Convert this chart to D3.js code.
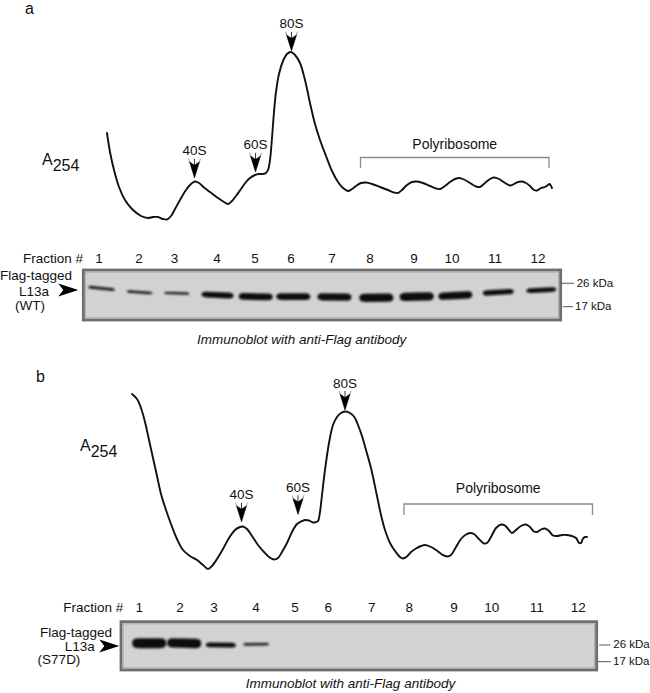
<!DOCTYPE html>
<html><head><meta charset="utf-8">
<script src="https://cdn.jsdelivr.net/npm/d3@7"></script>
<style>body{margin:0;background:#fff}svg{display:block}text{font-family:"Liberation Sans",Arial,Helvetica,sans-serif;fill:#111}</style>
</head><body><svg id="c" width="650" height="693"></svg>
<script>
// ---------------- DATA ----------------
const fractions = [1,2,3,4,5,6,7,8,9,10,11,12];
const peakNames = ["40S","60S","80S"];
const polysomeName = "Polyribosome";
const markerKda = [26, 17];
const markerLabels = ["26 kDa", "17 kDa"];
const blotLabelsA = ["Flag-tagged", "L13a", "(WT)"];
const blotLabelsB = ["Flag-tagged", "L13a", "(S77D)"];
const captionText = "Immunoblot with anti-Flag antibody";
const yAxisName = "A";
const yAxisSub = "254";

// Panel a: sucrose-gradient profile (depth, A254 arbitrary units)
const depthA = [0,0.6,1.4,2.4,3.6,5.0,6.8,8.2,9.2,10.2,11.2,12.0,12.8,13.6,14.6,15.8,16.8,17.6,18.4,19.4,20.6,22.2,23.4,24.2,25.0,25.8,26.8,27.8,28.6,29.6,30.4,31.2,31.8,32.2,32.6,33.0,33.4,33.8,34.4,35.2,36.0,36.8,37.6,38.6,39.6,40.6,41.6,42.6,43.8,45.0,46.2,47.2,48.2,49.0,49.8,50.8,51.8,53.0,54.6,56.2,57.4,58.2,59.0,60.0,61.0,62.0,63.2,64.6,65.8,66.6,67.6,68.6,69.6,70.4,71.4,72.6,73.8,74.6,75.6,76.6,77.4,78.4,79.6,80.6,81.4,82.2,83.0,83.8,84.6,85.4,86.0,86.8,87.6,88.2,88.5,88.8,89.0];
const absA = [0.92,0.73,0.55,0.38,0.25,0.16,0.09,0.07,0.08,0.08,0.06,0.055,0.09,0.16,0.25,0.35,0.41,0.435,0.42,0.375,0.33,0.27,0.23,0.21,0.24,0.29,0.36,0.43,0.47,0.50,0.51,0.51,0.52,0.55,0.65,0.87,1.13,1.33,1.51,1.64,1.71,1.73,1.70,1.62,1.45,1.22,1.01,0.85,0.69,0.54,0.43,0.37,0.34,0.36,0.39,0.42,0.425,0.41,0.38,0.35,0.325,0.32,0.35,0.40,0.43,0.435,0.42,0.39,0.365,0.36,0.39,0.43,0.46,0.47,0.455,0.42,0.385,0.38,0.42,0.46,0.475,0.46,0.42,0.395,0.41,0.43,0.435,0.42,0.39,0.35,0.345,0.37,0.38,0.40,0.41,0.39,0.37];
const peakDepthA = [17.5, 29.7, 36.9];
const polysomeRangeA = [50.7, 88.4];
const bandSignalA = [2.4, 2.0, 1.7, 5.0, 6.0, 6.0, 6.5, 7.5, 7.5, 6.5, 4.5, 4.0];
const bandKdaA = [23.7, 22.1, 21.7, 21.0, 20.4, 20.4, 20.3, 20.0, 20.4, 20.8, 22.1, 23.0];

// Panel b
const depthB = [0,1.0,1.8,2.6,3.4,4.2,5.0,5.8,6.8,7.8,9.0,10.2,11.6,13.0,14.2,15.2,16.0,17.0,18.2,19.4,20.6,21.6,22.2,23.0,24.0,25.2,26.4,27.4,28.4,29.2,30.0,31.0,32.0,33.0,33.8,34.6,35.4,36.2,36.8,37.2,37.6,38.0,38.6,39.4,40.2,41.0,41.8,42.6,43.4,44.4,45.2,46.0,46.8,47.8,49.0,49.8,50.6,51.6,52.6,53.6,54.2,55.0,55.8,56.8,57.8,58.6,59.6,60.8,62.0,63.0,63.8,64.8,65.8,66.8,67.6,68.4,69.4,70.4,71.0,71.8,72.8,73.8,74.6,75.4,76.0,76.8,77.8,78.8,79.6,80.4,81.0,81.8,82.6,83.4,84.2,85.0,86.0,87.0,88.0,88.8,89.4,89.8,90.2,90.6,91.0];
const absB = [1.81,1.76,1.67,1.53,1.35,1.17,0.99,0.81,0.65,0.51,0.36,0.25,0.19,0.15,0.10,0.06,0.09,0.16,0.26,0.37,0.45,0.48,0.485,0.46,0.39,0.30,0.23,0.18,0.155,0.17,0.23,0.32,0.43,0.51,0.535,0.55,0.545,0.525,0.53,0.54,0.63,0.80,1.05,1.32,1.50,1.58,1.62,1.635,1.625,1.585,1.50,1.39,1.25,1.07,0.79,0.60,0.45,0.32,0.24,0.18,0.165,0.185,0.23,0.265,0.29,0.30,0.285,0.25,0.205,0.185,0.20,0.28,0.36,0.405,0.42,0.41,0.36,0.315,0.32,0.38,0.47,0.505,0.495,0.45,0.42,0.45,0.49,0.505,0.48,0.435,0.43,0.455,0.465,0.44,0.395,0.39,0.40,0.40,0.39,0.37,0.32,0.32,0.365,0.38,0.38];
const peakDepthB = [21.9, 33.2, 42.6];
const polysomeRangeB = [54.4, 92.1];
const bandSignalB = [9.0, 8.5, 4.0, 2.0, 0, 0, 0, 0, 0, 0, 0, 0];
const bandKdaB = [27.2, 27.2, 26.0, 26.5, null, null, null, null, null, null, null, null];

// ---------------- LAYOUT ----------------
const panels = [
  { tag:"a", tagPos:[25,14], depth:depthA, abs:absA,
    x:d3.scaleLinear().domain([0,89]).range([107,552]),
    y:d3.scaleLinear().domain([0,1.75]).range([225,50]),
    peakDepth:peakDepthA, peakGap:[4,3,1.5], polysome:polysomeRangeA, bracketY:157.5, bracketH:10.5, polyTextY:149,
    aPos:[42,165],
    blot:{ box:[83.3,270,560.7,320], fracY:262.7, fracRight:83,
      labelX:d3.scaleLinear().domain(fractions).range([99,139,174.5,217,255,291,332,370,414,452,495,538]),
      laneX:d3.scaleLinear().domain(fractions).range([101.5,139.7,176.7,217.5,255.8,293.3,334.5,376.3,416.7,455.3,498.3,541.3]),
      kda:d3.scaleLog().domain(markerKda).range([283.3,306.7]),
      signal:bandSignalA, bandKda:bandKdaA,
      tickX:[[561.7,574],[563,573]], textX:[576.7,575],
      arrow:[58.3,290], lines:blotLabelsA, lineX:[36,34,30], lineY:[280,295.5,309.5],
      caption:[301.7,344]}},
  { tag:"b", tagPos:[36,382], depth:depthB, abs:absB,
    x:d3.scaleLinear().domain([0,91]).range([132,587]),
    y:d3.scaleLinear().domain([0,2]).range([575,375]),
    peakDepth:peakDepthB, peakGap:[5,9,1.5], polysome:polysomeRangeB, bracketY:504, bracketH:11, polyTextY:493,
    aPos:[80,451],
    blot:{ box:[121,621.7,596.7,670], fracY:611.7, fracRight:123.3,
      labelX:d3.scaleLinear().domain(fractions).range([139.3,180,214,256,295,328.3,371.7,409.3,454,491.7,536.7,578.3]),
      laneX:d3.scaleLinear().domain(fractions).range([149.2,184.2,220.8,256.2,300,333,377,414,459,497,542,583]),
      kda:d3.scaleLog().domain(markerKda).range([645,661.7]),
      signal:bandSignalB, bandKda:bandKdaB,
      tickX:[[599.3,610.7],[598,611]], textX:[613.3,613],
      arrow:[99.3,646], lines:blotLabelsB, lineX:[76,79.7,59], lineY:[637,650.5,664],
      caption:[350.5,688]}}
];

const svg = d3.select("#c");
const defs = svg.append("defs");
defs.append("filter").attr("id","blur").attr("x","-20%").attr("y","-100%").attr("width","140%").attr("height","300%")
  .append("feGaussianBlur").attr("stdDeviation",0.8);

function valueAt(depth, abs, d){
  const i = d3.bisectLeft(depth, d);
  if (i <= 0) return abs[0];
  if (i >= depth.length) return abs[abs.length-1];
  const t = (d - depth[i-1])/(depth[i]-depth[i-1]);
  return abs[i-1] + t*(abs[i]-abs[i-1]);
}

panels.forEach(p => {
  const g = svg.append("g");
  g.append("text").attr("x",p.tagPos[0]).attr("y",p.tagPos[1]).attr("font-size",16).text(p.tag);
  const at = g.append("text").attr("x",p.aPos[0]).attr("y",p.aPos[1]).attr("font-size",16);
  at.append("tspan").text(yAxisName);
  at.append("tspan").attr("dy",6).text(yAxisSub);

  const pts = p.depth.map((d,i)=>[d,p.abs[i]]);
  const line = d3.line().x(d=>p.x(d[0])).y(d=>p.y(d[1])).curve(d3.curveCatmullRom.alpha(0.5));
  g.append("path").attr("d",line(pts)).attr("fill","none").attr("stroke","#111")
    .attr("stroke-width",1.9).attr("stroke-linejoin","round").attr("stroke-linecap","round");

  p.peakDepth.forEach((d,i)=>{
    const px = p.x(d);
    const tip = p.y(valueAt(p.depth,p.abs,d)) - p.peakGap[i];
    const ag = g.append("g").attr("transform",`translate(${px},${tip})`);
    ag.append("line").attr("x1",0).attr("x2",0).attr("y1",-19).attr("y2",-12).attr("stroke","#222").attr("stroke-width",0.9);
    ag.append("path").attr("d","M0,0 L-5,-16 L0,-12.5 L5,-16 Z").attr("fill","#000").attr("stroke","#000").attr("stroke-width",0.6).attr("stroke-linejoin","round");
    ag.append("path").attr("d","M-5,-16 L-5.8,-19 M5,-16 L5.8,-19").attr("stroke","#555").attr("stroke-width",0.6);
    g.append("text").attr("x",px).attr("y",tip-22.5).attr("text-anchor","middle").attr("font-size",13.5).text(peakNames[i]);
  });

  const bx0 = p.x(p.polysome[0]), bx1 = p.x(p.polysome[1]);
  g.append("path").attr("d",`M${bx0},${p.bracketY+p.bracketH} V${p.bracketY} H${bx1} V${p.bracketY+p.bracketH}`)
    .attr("fill","none").attr("stroke","#8a8a8a").attr("stroke-width",1.3);
  g.append("text").attr("x",(bx0+bx1)/2).attr("y",p.polyTextY).attr("text-anchor","middle").attr("font-size",14).text(polysomeName);

  const b = p.blot;
  g.append("text").attr("x",b.fracRight).attr("y",b.fracY).attr("text-anchor","end").attr("font-size",13.5).text("Fraction #");
  g.selectAll(null).data(fractions).join("text")
    .attr("x",f=>b.labelX(f)).attr("y",b.fracY).attr("text-anchor","middle").attr("font-size",13.5).text(f=>f);

  const [x0,y0,x1,y1] = b.box;
  g.append("rect").attr("x",x0).attr("y",y0).attr("width",x1-x0).attr("height",y1-y0)
    .attr("fill","#d2d2d2").attr("stroke","#6e6e6e").attr("stroke-width",2.8);
  g.append("rect").attr("x",x0+2.2).attr("y",y0+2.2).attr("width",x1-x0-4.4).attr("height",y1-y0-4.4)
    .attr("fill","none").attr("stroke","#a8a8a8").attr("stroke-width",0.8);

  const bandData = fractions.map((f,i)=>({f, s:b.signal[i], k:b.bandKda[i]})).filter(d=>d.s>0 && d.k!=null);
  const yOf = d => b.kda(d.k);
  const bg = g.append("g").attr("filter","url(#blur)");
  bandData.forEach((d,i)=>{
    const cx = b.laneX(d.f), cy = yOf(d);
    const prev = bandData[i-1], next = bandData[i+1];
    let slope = 0;
    if (prev && next) slope = (yOf(next)-yOf(prev))/(b.laneX(next.f)-b.laneX(prev.f));
    else if (next) slope = (yOf(next)-cy)/(b.laneX(next.f)-cx);
    else if (prev) slope = (cy-yOf(prev))/(cx-b.laneX(prev.f));
    const w = Math.min(34, 22 + 2*d.s);
    const hw = w/2, ht = d.s/2 + 0.4;
    const taper = Math.min(hw*0.35, 7);
    const path = `M${-hw},0 C${-hw},${-ht*0.9} ${-hw+taper*0.6},${-ht} ${-hw+taper},${-ht} L${hw-taper},${-ht} C${hw-taper*0.6},${-ht} ${hw},${-ht*0.9} ${hw},0 C${hw},${ht*0.9} ${hw-taper*0.6},${ht} ${hw-taper},${ht} L${-hw+taper},${ht} C${-hw+taper*0.6},${ht} ${-hw},${ht*0.9} ${-hw},0 Z`;
    const ang = Math.atan(slope)*180/Math.PI;
    bg.append("path").attr("d",path).attr("transform",`translate(${cx},${cy}) rotate(${ang})`)
      .attr("fill", d.s < 3 ? "#222" : "#0c0c0c");
  });

  markerKda.forEach((k,i)=>{
    const yy = b.kda(k);
    g.append("line").attr("x1",b.tickX[i][0]).attr("x2",b.tickX[i][1]).attr("y1",yy).attr("y2",yy)
      .attr("stroke","#555").attr("stroke-width",1);
    g.append("text").attr("x",b.textX[i]).attr("y",yy+3.4).attr("font-size",11.5).text(markerLabels[i]);
  });

  b.lines.forEach((t,i)=>{
    g.append("text").attr("x",b.lineX[i]).attr("y",b.lineY[i]).attr("text-anchor","middle").attr("font-size",13.5).text(t);
  });
  g.append("path").attr("transform",`translate(${b.arrow[0]},${b.arrow[1]})`)
    .attr("d","M20,0 L0,-6.5 L5,0 L0,6.5 Z").attr("fill","#000");

  g.append("text").attr("x",b.caption[0]).attr("y",b.caption[1]).attr("text-anchor","middle")
    .attr("font-size",13.5).attr("font-style","italic").text(captionText);
});
</script></body></html>
